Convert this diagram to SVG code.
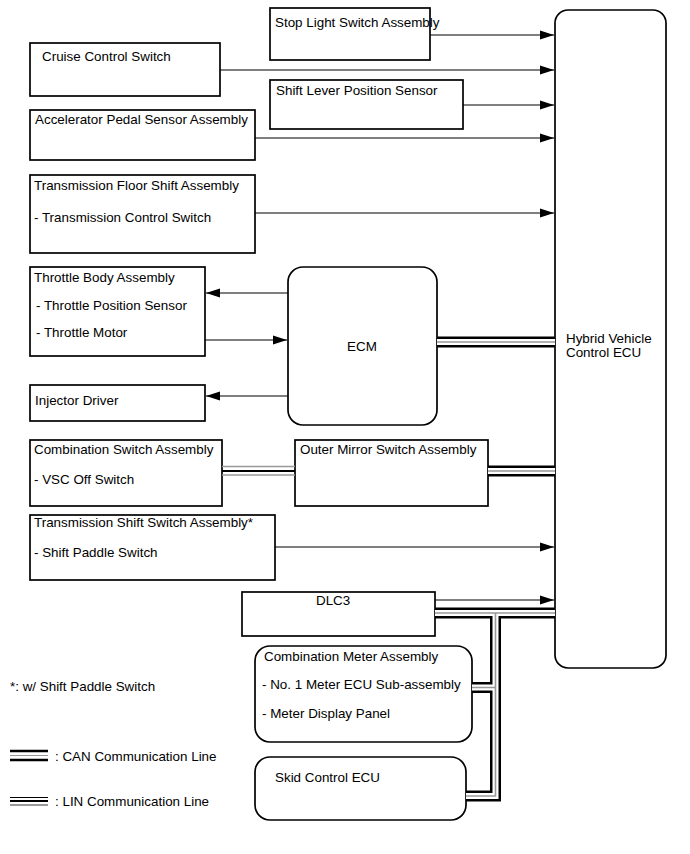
<svg xmlns="http://www.w3.org/2000/svg" width="690" height="854" viewBox="0 0 690 854">
<defs>
<marker id="ah" markerUnits="userSpaceOnUse" markerWidth="14" markerHeight="10" refX="14" refY="5" orient="auto">
<path d="M0,0.5 L14,5 L0,9.5 z" fill="#000"/>
</marker>
</defs>
<style>
.box{fill:#fff;stroke:#000;stroke-width:1.7}
text{font-family:"Liberation Sans",Arial,sans-serif;font-size:13.4px;fill:#000}
.arr{stroke:#000;stroke-width:1.1;fill:none;marker-end:url(#ah)}
.co{stroke:#000;stroke-width:11;fill:none}
.cw{stroke:#fff;stroke-width:6;fill:none}
.cg{stroke:#999;stroke-width:1.6;fill:none}
</style>
<rect width="690" height="854" fill="#fff"/>

<g id="hv-ecu"><rect class="box" x="555" y="10" width="111" height="658" rx="13"/><text x="566" y="343">Hybrid Vehicle</text><text x="566" y="357">Control ECU</text></g>
<g id="stop-light"><rect class="box" x="270" y="8" width="160" height="52"/><text x="275" y="27">Stop Light Switch Assembly</text></g>
<g id="cruise"><rect class="box" x="30" y="43" width="190" height="53"/><text x="42" y="61">Cruise Control Switch</text></g>
<g id="shift-lever"><rect class="box" x="270" y="80" width="193" height="49"/><text x="276" y="95">Shift Lever Position Sensor</text></g>
<g id="accel"><rect class="box" x="30" y="110" width="225" height="50"/><text x="35" y="124">Accelerator Pedal Sensor Assembly</text></g>
<g id="floor-shift"><rect class="box" x="30" y="175" width="225" height="78"/><text x="34" y="190">Transmission Floor Shift Assembly</text><text x="34" y="222">- Transmission Control Switch</text></g>
<g id="throttle"><rect class="box" x="30" y="267" width="175" height="89"/><text x="34" y="282">Throttle Body Assembly</text><text x="36" y="310">- Throttle Position Sensor</text><text x="36" y="337">- Throttle Motor</text></g>
<g id="ecm"><rect class="box" x="288" y="267" width="149" height="158" rx="15"/><text x="362" y="351" text-anchor="middle">ECM</text></g>
<g id="injector"><rect class="box" x="30" y="385" width="175" height="36"/><text x="35" y="405">Injector Driver</text></g>
<g id="comb-switch"><rect class="box" x="30" y="440" width="192" height="66"/><text x="34" y="454">Combination Switch Assembly</text><text x="34" y="484">- VSC Off Switch</text></g>
<g id="outer-mirror"><rect class="box" x="295" y="440" width="193" height="66"/><text x="300" y="454">Outer Mirror Switch Assembly</text></g>
<g id="shift-switch"><rect class="box" x="30" y="515" width="245" height="65"/><text x="34" y="527">Transmission Shift Switch Assembly*</text><text x="34" y="557">- Shift Paddle Switch</text></g>
<g id="dlc3"><rect class="box" x="242" y="592" width="193" height="44"/><text x="316" y="605">DLC3</text></g>
<g id="comb-meter"><rect class="box" x="255" y="646" width="217" height="96" rx="15"/><text x="264" y="661">Combination Meter Assembly</text><text x="262" y="689">- No. 1 Meter ECU Sub-assembly</text><text x="262" y="718">- Meter Display Panel</text></g>
<g id="skid"><rect class="box" x="255" y="757" width="211" height="63" rx="15"/><text x="275" y="782">Skid Control ECU</text></g>

<g id="connectors">
<line class="arr" x1="430" y1="35" x2="554" y2="35"/>
<line class="arr" x1="220" y1="70" x2="554" y2="70"/>
<line class="arr" x1="463" y1="105" x2="554" y2="105"/>
<line class="arr" x1="255" y1="138" x2="554" y2="138"/>
<line class="arr" x1="255" y1="213" x2="554" y2="213"/>
<line class="arr" x1="288" y1="293" x2="206" y2="293"/>
<line class="arr" x1="205" y1="340" x2="287" y2="340"/>
<line class="arr" x1="288" y1="396" x2="206" y2="396"/>
<line class="arr" x1="275" y1="547" x2="554" y2="547"/>
<line class="arr" x1="435" y1="600" x2="554" y2="600"/>
<path class="co" d="M437,342 H555"/>
<path class="cw" d="M437,342 H555"/>
<path class="cg" d="M437,342 H555"/>
<path class="co" d="M488,471 H555"/>
<path class="cw" d="M488,471 H555"/>
<path class="cg" d="M488,471 H555"/>
<path class="co" d="M435,613 H555 M495.5,613 V796 H466 M495.5,687.5 H472"/>
<path class="cw" d="M435,613 H555 M495.5,613 V796 H466 M495.5,687.5 H472"/>
<path class="cg" d="M435,613 H555 M495.5,613 V796 H466 M495.5,687.5 H472"/>
<line x1="222" y1="466.5" x2="295" y2="466.5" stroke="#999" stroke-width="1.6"/>
<line x1="222" y1="471" x2="295" y2="471" stroke="#000" stroke-width="2.2"/>
<line x1="222" y1="475" x2="295" y2="475" stroke="#999" stroke-width="1.6"/>
</g>

<g id="legend">
<text x="10" y="691">*: w/ Shift Paddle Switch</text>
<line x1="10" y1="751" x2="48" y2="751" stroke="#000" stroke-width="2.5"/>
<line x1="10" y1="755.5" x2="48" y2="755.5" stroke="#999" stroke-width="1.2"/>
<line x1="10" y1="760" x2="48" y2="760" stroke="#000" stroke-width="2.5"/>
<text x="55" y="761">: CAN Communication Line</text>
<line x1="10" y1="797.5" x2="48" y2="797.5" stroke="#000" stroke-width="1"/>
<line x1="10" y1="801" x2="48" y2="801" stroke="#000" stroke-width="2"/>
<line x1="10" y1="805" x2="48" y2="805" stroke="#999" stroke-width="2"/>
<text x="55" y="806">: LIN Communication Line</text>
</g>
</svg>
